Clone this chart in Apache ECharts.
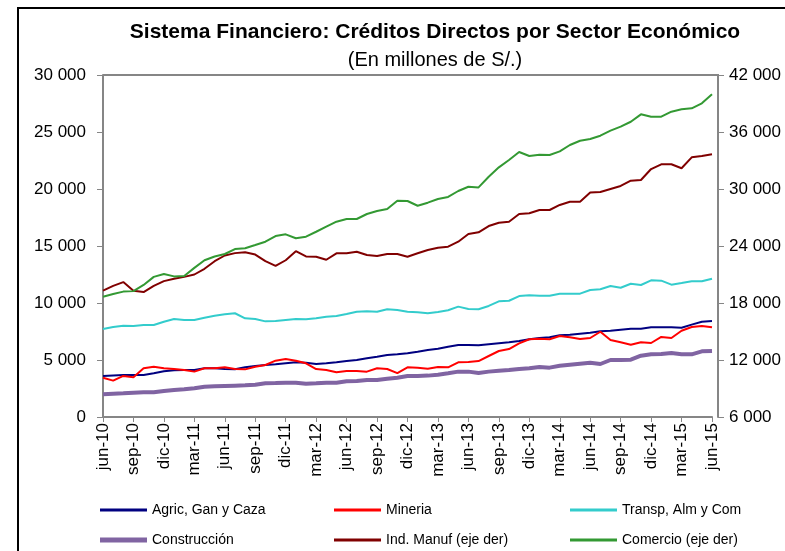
<!DOCTYPE html>
<html><head><meta charset="utf-8">
<script src="https://cdn.jsdelivr.net/npm/echarts@6/dist/echarts.min.js"></script>
<style>html,body{margin:0;padding:0;background:#fff}#c{width:785px;height:551px}</style>
</head><body><div id="c"></div>
<script>
const months = ['jun-10','jul-10','ago-10','sep-10','oct-10','nov-10','dic-10','ene-11','feb-11','mar-11','abr-11','may-11',
'jun-11','jul-11','ago-11','sep-11','oct-11','nov-11','dic-11','ene-12','feb-12','mar-12','abr-12','may-12',
'jun-12','jul-12','ago-12','sep-12','oct-12','nov-12','dic-12','ene-13','feb-13','mar-13','abr-13','may-13',
'jun-13','jul-13','ago-13','sep-13','oct-13','nov-13','dic-13','ene-14','feb-14','mar-14','abr-14','may-14',
'jun-14','jul-14','ago-14','sep-14','oct-14','nov-14','dic-14','ene-15','feb-15','mar-15','abr-15','may-15','jun-15'];

const agric = [3600,3650,3680,3680,3680,3830,4010,4100,4120,4120,4270,4270,4210,4180,4360,4470,4560,4620,4710,4800,4760,4650,4710,4800,4910,5000,5150,5290,5440,5500,5590,5730,5880,5990,6170,6320,6320,6290,6380,6470,6550,6670,6820,6930,6990,7170,7220,7310,7400,7520,7570,7660,7750,7750,7870,7870,7870,7830,8100,8360,8420];
const mineria = [3450,3190,3600,3480,4270,4410,4270,4210,4120,3980,4270,4270,4360,4210,4180,4410,4560,4940,5090,4940,4710,4210,4120,3920,4040,4040,3980,4270,4210,3850,4360,4330,4240,4390,4360,4800,4830,4910,5350,5790,5960,6460,6820,6870,6820,7110,6990,6840,6930,7480,6750,6550,6340,6550,6490,7020,6930,7570,7900,7980,7870];
const transp = [7720,7900,8010,7990,8070,8070,8360,8600,8510,8510,8710,8890,9010,9100,8660,8600,8390,8420,8510,8600,8570,8660,8800,8860,9040,9240,9270,9240,9450,9390,9240,9180,9100,9210,9360,9680,9470,9450,9740,10150,10200,10610,10680,10640,10640,10820,10820,10820,11140,11200,11490,11340,11690,11580,11990,11960,11610,11750,11900,11900,12130];
const construccion = [1990,2040,2080,2130,2170,2170,2280,2370,2430,2520,2660,2690,2720,2750,2780,2830,2960,2980,3010,3010,2920,2960,3010,3010,3130,3160,3250,3250,3360,3450,3600,3600,3630,3710,3830,3980,3980,3860,3980,4060,4120,4210,4270,4390,4330,4500,4590,4680,4760,4650,5000,5000,5030,5380,5500,5530,5610,5500,5500,5760,5790];
const manuf = [19300,19800,20200,19300,19150,19800,20300,20550,20750,21000,21600,22400,23000,23250,23350,23100,22400,21900,22500,23450,22900,22870,22550,23230,23230,23400,23050,22950,23160,23150,22870,23230,23580,23820,23930,24450,25260,25440,26100,26450,26560,27370,27440,27790,27790,28320,28660,28660,29620,29680,30000,30320,30870,30950,32100,32600,32600,32180,33330,33470,33650];
const comercio = [18660,18950,19200,19250,19900,20750,21050,20800,20850,21700,22500,22900,23160,23680,23760,24100,24450,25050,25230,24810,24980,25500,26030,26560,26840,26840,27370,27680,27890,28770,28740,28240,28560,28950,29160,29790,30240,30170,31290,32280,33050,33890,33470,33610,33580,33960,34630,35080,35260,35610,36140,36560,37080,37860,37610,37610,38140,38390,38490,39020,39970];

const names = ['Agric, Gan y Caza','Mineria','Transp, Alm y Com','Construcción','Ind. Manuf (eje der)','Comercio (eje der)'];
const colors = ['#000080','#ff0000','#33cccc','#8064a2','#800000','#339933'];
const values = [agric, mineria, transp, construccion, manuf, comercio];
const axisIdx = [0,0,0,0,1,1];
const widths = [2,2,2,4,2,2];

const FONT = "'Liberation Sans Narrow','Arial Narrow','Liberation Sans',Arial,sans-serif";
const fmt = v => String(v).replace(/\B(?=(\d{3})+(?!\d))/g, ' ');

const legendPos = [[100,503],[334,503],[570,503],[100,533],[334,533],[570,533]];

const chart = echarts.init(document.getElementById('c'), null, {renderer:'canvas'});
chart.setOption({
  animation:false,
  textStyle:{fontFamily:FONT},
  title:[
    {text:'Sistema Financiero: Créditos Directos por Sector Económico', left:430, top:17, textAlign:'center',
     textStyle:{fontFamily:FONT, fontSize:21, fontWeight:'bold', color:'#000'}},
    {text:'(En millones de S/.)', left:430, top:45, textAlign:'center',
     textStyle:{fontFamily:FONT, fontSize:20, fontWeight:'normal', color:'#000'}}
  ],
  legend: names.map((n,i)=>({data:[n], left:legendPos[i][0], top:legendPos[i][1], icon:'rect',
    itemWidth:47, itemHeight:widths[i]+1, itemGap:0, padding:0,
    textStyle:{fontFamily:FONT, fontSize:14, color:'#000'}})),
  grid:{left:103, right:73, top:75, bottom:134, containLabel:false},
  xAxis:{type:'category', data:months, boundaryGap:false,
    axisLine:{lineStyle:{color:'#868686', width:2}},
    axisTick:{interval:2, length:5, lineStyle:{color:'#868686', width:1}},
    axisLabel:{interval:2, rotate:90, margin:6, color:'#000', fontSize:17, fontFamily:FONT}},
  yAxis:[
    {type:'value', min:0, max:30000, interval:5000, splitLine:{show:false},
     axisLine:{show:true, lineStyle:{color:'#868686', width:2}},
     axisTick:{show:true, length:6, lineStyle:{color:'#868686'}},
     axisLabel:{formatter:fmt, margin:17, color:'#000', fontSize:17, fontFamily:FONT}},
    {type:'value', min:6000, max:42000, interval:6000, position:'right', offset:6, splitLine:{show:false},
     axisLine:{show:true, lineStyle:{color:'#868686', width:2}},
     axisTick:{show:true, length:6, lineStyle:{color:'#868686'}},
     axisLabel:{formatter:fmt, margin:11, color:'#000', fontSize:17, fontFamily:FONT}}
  ],
  graphic:[
    {type:'line', shape:{x1:103, y1:75, x2:719, y2:75}, style:{stroke:'#868686', lineWidth:2}},
    {type:'rect', shape:{x:18, y:8, width:800, height:600}, style:{fill:'none', stroke:'#000', lineWidth:2}}
  ],
  series: names.map((n,i)=>({name:n, type:'line', data:values[i], yAxisIndex:axisIdx[i],
    showSymbol:false, symbol:'none', color:colors[i], lineStyle:{width:widths[i], color:colors[i]}}))
});
</script></body></html>
